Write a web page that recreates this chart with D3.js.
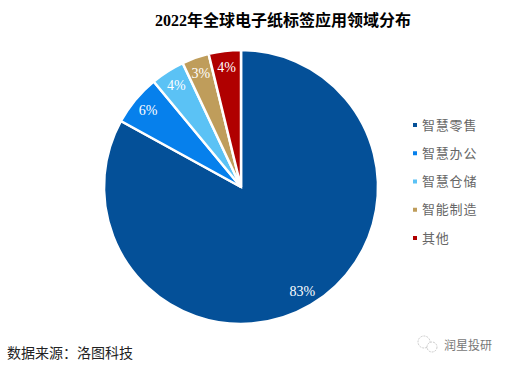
<!DOCTYPE html>
<html>
<head>
<meta charset="utf-8">
<script src="https://cdn.jsdelivr.net/npm/d3@7"></script>
<style>
body { margin: 0; background: #fff; }
svg { display: block; }
text { font-family: "Liberation Serif", "Noto Sans CJK SC", serif; }
</style>
</head>
<body>
<div id="chart"></div>
<script>
// data
const categories = ["智慧零售", "智慧办公", "智慧仓储", "智能制造", "其他"]
const values = [83, 6, 4, 3.2, 3.8]
const labels = ["83%", "6%", "4%", "3%", "4%"]
const colors = ["#045098", "#0680ec", "#5bc2f5", "#bf9d5b", "#b00000"]

const width = 507, height = 367
const center = { x: 241, y: 187 }
const radius = 137

let svg = d3.select("#chart")
    .append("svg")
        .attr("width", width)
        .attr("height", height)

svg.append("text")
    .attr("x", 283)
    .attr("y", 26)
    .attr("text-anchor", "middle")
    .attr("font-size", 16)
    .attr("font-weight", "bold")
    .attr("fill", "#000")
    .text("2022年全球电子纸标签应用领域分布")

// pie
const pie = d3.pie().sort(null).value((d, i) => values[i])
const arc = d3.arc().innerRadius(0).outerRadius(radius)
const labelArc = d3.arc().innerRadius(radius * 0.88).outerRadius(radius * 0.88)

let g = svg.append("g")
    .attr("transform", "translate(" + center.x + "," + center.y + ")")

const arcs = pie(categories)

g.selectAll("path")
    .data(arcs)
    .enter()
    .append("path")
        .attr("d", arc)
        .attr("fill", (d, i) => colors[i])
        .attr("stroke", "#fff")
        .attr("stroke-width", 2.5)

g.selectAll(".label")
    .data(arcs)
    .enter()
    .append("text")
        .attr("class", "label")
        .attr("transform", d => "translate(" + labelArc.centroid(d) + ")")
        .attr("text-anchor", "middle")
        .attr("dy", "0.35em")
        .attr("font-size", 14)
        .attr("fill", "#fff")
        .text((d, i) => labels[i])

// legend
const legendY = d3.scalePoint()
    .domain(categories)
    .range([125, 238])

let legend = svg.append("g")
    .selectAll("g")
    .data(categories)
    .enter()
    .append("g")
        .attr("transform", d => "translate(412," + legendY(d) + ")")

legend.append("rect")
    .attr("x", 1)
    .attr("y", -2)
    .attr("width", 4)
    .attr("height", 4)
    .attr("fill", (d, i) => colors[i])

legend.append("text")
    .attr("x", 10)
    .attr("dy", "0.35em")
    .attr("font-size", 13)
    .attr("letter-spacing", 0.8)
    .attr("fill", "#666")
    .text(d => d)

svg.append("text")
    .attr("x", 7)
    .attr("y", 358)
    .attr("font-size", 14)
    .attr("fill", "#222")
    .text("数据来源：洛图科技")

// watermark
let mark = svg.append("g")
    .attr("fill", "#fff")
    .attr("stroke", "#aaa")
    .attr("stroke-width", 0.6)
    .attr("stroke-dasharray", "2 1")
mark.append("circle").attr("cx", 424).attr("cy", 342).attr("r", 6)
mark.append("circle").attr("cx", 432).attr("cy", 347).attr("r", 5)

svg.append("text")
    .attr("x", 444)
    .attr("y", 350)
    .attr("font-size", 12)
    .attr("fill", "#777")
    .text("润星投研")
</script>
</body>
</html>
